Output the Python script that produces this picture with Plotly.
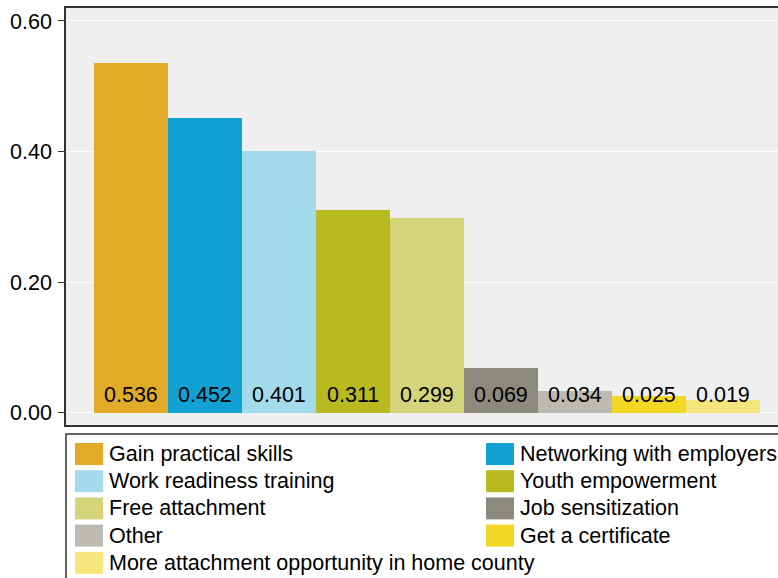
import plotly.graph_objects as go

categories = ["Gain practical skills", "Networking with employers", "Work readiness training",
              "Youth empowerment", "Free attachment", "Job sensitization", "Other",
              "Get a certificate", "More attachment opportunity in home county"]
values = [0.536, 0.452, 0.401, 0.311, 0.299, 0.069, 0.034, 0.025, 0.019]
colors = ["#E1AB28", "#11A1D2", "#A3DBEC", "#B9BA1F", "#D4D57A", "#8C8A7D",
          "#BDBAB2", "#F2D823", "#F5E67C"]
ytick_vals = [0.0, 0.2, 0.4, 0.6]

FONT = "Liberation Sans, Arial, Helvetica, sans-serif"
FS = 21.5
W, H = 778, 578
# plot area in window pixels: x 66..778, y 8..425
L, R, T, B = 66, 0, 8, 578 - 425
PW, PH = W - L - R, H - T - B

def px_x(x):  # window pixel -> paper
    return (x - L) / PW

def px_y(y):
    return (H - B - y) / PH

fig = go.Figure()
xs = list(range(len(categories)))
fig.add_trace(go.Bar(x=xs, y=values, width=1.0, marker=dict(color=colors, line=dict(width=0)),
                     showlegend=False, hoverinfo="skip"))

annotations = []
for i, v in enumerate(values):
    annotations.append(dict(x=i, y=0, xref="x", yref="y", text=f"{v:.3f}", showarrow=False,
                            yanchor="bottom", xanchor="center", yshift=4,
                            font=dict(family=FONT, size=FS, color="#000000")))

shapes = [dict(type="rect", xref="paper", yref="paper", x0=0, x1=px_x(800),
               y0=px_y(434), y1=px_y(600), line=dict(color="#333333", width=1.5),
               fillcolor="white", layer="above")]

col_x = [75, 486]
row_y0, row_dy = 454, 27.2
sw_w, sw_h = 28, 22
for i, (name, c) in enumerate(zip(categories, colors)):
    r, col = divmod(i, 2)
    cx = col_x[col]
    cy = row_y0 + r * row_dy
    shapes.append(dict(type="rect", xref="paper", yref="paper",
                       x0=px_x(cx), x1=px_x(cx + sw_w), y0=px_y(cy - sw_h / 2), y1=px_y(cy + sw_h / 2),
                       fillcolor=c, line=dict(width=0), layer="above"))
    annotations.append(dict(x=px_x(cx + sw_w + 4), y=px_y(cy), xref="paper", yref="paper",
                            text=name, showarrow=False, xanchor="left", yanchor="middle",
                            font=dict(family=FONT, size=FS, color="#000000")))

fig.update_layout(
    width=W, height=H,
    margin=dict(l=L, r=R, t=T, b=B, pad=0),
    paper_bgcolor="white",
    plot_bgcolor="#EFEFEF",
    bargap=0,
    font=dict(family=FONT, size=FS, color="#000000"),
    xaxis=dict(range=[-0.5 - 28 / 74, 8.5 + 18 / 74], showticklabels=False, ticks="",
               showgrid=False, zeroline=False, showline=True, mirror=True,
               linecolor="#333333", linewidth=1.5, fixedrange=True),
    yaxis=dict(range=[-0.0188, 0.6199], tickvals=ytick_vals,
               ticktext=[f"{v:.2f}" for v in ytick_vals], ticks="outside", ticklen=6,
               tickcolor="#333333", tickwidth=1, ticklabelstandoff=2,
               showgrid=True, gridcolor="white", gridwidth=1,
               zeroline=False, showline=True, linecolor="#333333", linewidth=1.5,
               tickfont=dict(family=FONT, size=FS, color="#000000")),
    shapes=shapes,
    annotations=annotations,
)

fig.write_html("out.html", config={"displayModeBar": False},
               post_script="document.body.style.margin='0';document.body.style.overflow='hidden';")
